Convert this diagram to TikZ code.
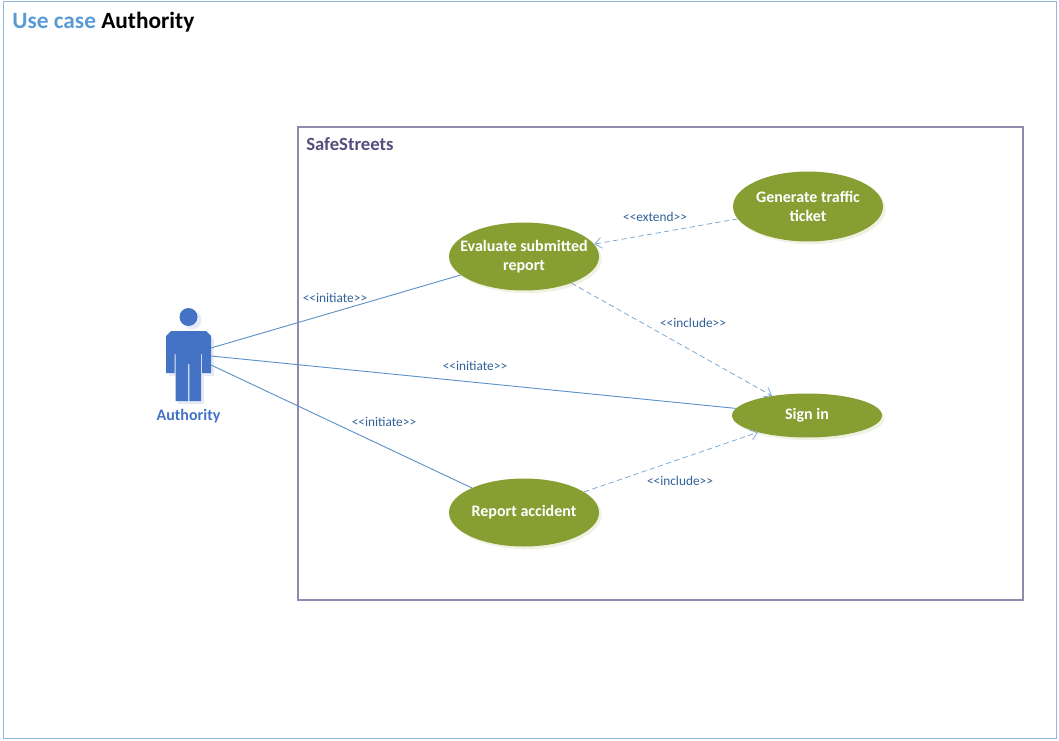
\documentclass[tikz,border=0pt]{standalone}
\usepackage{fontspec}
\setmainfont{Carlito}
\usetikzlibrary{positioning, arrows.meta, shapes.geometric, shadows}
\definecolor{olivefill}{HTML}{879E32}
\definecolor{oliveshade}{HTML}{EFF1E3}
\definecolor{actorblue}{HTML}{4472C4}
\definecolor{actorshade}{HTML}{E6EBF6}
\definecolor{linkblue}{HTML}{5F93C8}
\definecolor{stereoblue}{HTML}{2F6098}
\definecolor{frameblue}{HTML}{8DB8E0}
\definecolor{titleblue}{HTML}{5B9BD5}
\definecolor{boxpurple}{HTML}{8F8BAE}
\definecolor{boxtext}{HTML}{544F7D}

\begin{document}
\begin{tikzpicture}[
        x=0.75pt, y=-0.75pt,
        on grid,
        usecase/.style={ellipse, fill=olivefill, text=white, minimum width=112.5pt, inner sep=-17pt, align=center,
            font=\bfseries\fontsize{12}{14.25}\selectfont,
            copy shadow={shadow xshift=2pt, shadow yshift=-2pt, fill=oliveshade, draw=none}},
        stereo/.style={text=stereoblue, font=\fontsize{10}{12}\selectfont, inner sep=0pt},
        initiate/.style={linkblue, line width=0.7pt},
        depend/.style={linkblue!80, line width=0.6pt, dashed, dash pattern=on 4pt off 2.5pt, -{Straight Barb[length=5pt, width=8pt]}},
        actorpart/.style={fill=actorblue}
    ]
    \useasboundingbox (0,0) rectangle (1059,741);

    \node[draw=frameblue, line width=0.7pt, minimum width=789.75pt, minimum height=552.75pt, inner sep=0pt] (Frame) at (529.5,369.5) {};
    \node[anchor=west, inner sep=0pt, font=\bfseries\fontsize{17.5}{20}\selectfont] (Title) at (12,22) {\textcolor{titleblue}{Use case} Authority};

    \node[draw=boxpurple, line width=0.8pt, minimum width=543.75pt, minimum height=354.75pt, inner sep=0pt] (System) at (660.5,363.5) {};
    \node[anchor=west, inner sep=0pt, text=boxtext, font=\bfseries\fontsize{14}{16}\selectfont] (SystemName) at (306,144) {SafeStreets};

    \node[usecase, minimum height=51pt] (Evaluate) at (524,256.5) {Evaluate submitted\\report};
    \node[usecase, minimum height=52.5pt, right=213pt of Evaluate, yshift=37.5pt] (Generate) {Generate traffic\\ticket};
    \node[usecase, minimum height=51pt, below=192pt of Evaluate] (Report) {Report accident};
    \node[usecase, minimum height=33pt, right=212.25pt of Report, yshift=72.75pt] (SignIn) {Sign in};

    \fill[actorshade] (192,320) circle (9.5);
    \fill[actorshade] (171,334) -- (208,334) -- (214,340) -- (214,376) -- (204,376) -- (204,404) -- (178,404) -- (178,376) -- (169,376) -- (169,340) -- cycle;
    \fill[actorpart] (188.5,317) circle (9);
    \fill[actorpart] (171,331) -- (206,331) -- (211,336) -- (211,373) -- (202,373) -- (202,354) -- (201,354) -- (201,401) -- (189.3,401) -- (189.3,364) -- (188,364) -- (188,401) -- (175.5,401) -- (175.5,354) -- (174.5,354) -- (174.5,373) -- (166,373) -- (166,336) -- cycle;
    \coordinate (ActorA) at (211,348);
    \coordinate (ActorB) at (211,356);
    \coordinate (ActorC) at (211,365);
    \node[inner sep=0pt, text=actorblue, font=\bfseries\fontsize{12}{14}\selectfont] (Actor) at (188.5,416.5) {Authority};

    \draw[initiate] (ActorA) -- (Evaluate);
    \draw[initiate] (ActorB) -- (SignIn);
    \draw[initiate] (ActorC) -- (Report);
    \draw[depend] (Generate) -- (Evaluate);
    \draw[depend] (Evaluate) -- (SignIn);
    \draw[depend] (Report) -- (SignIn);

    \node[stereo] (InitEvaluate) at (335,298) {<{}<initiate>{}>};
    \node[stereo] (InitSignIn) at (475,366) {<{}<initiate>{}>};
    \node[stereo] (InitReport) at (384,422) {<{}<initiate>{}>};
    \node[stereo] (Extend) at (655,217) {<{}<extend>{}>};
    \node[stereo] (IncludeEvaluate) at (693,323) {<{}<include>{}>};
    \node[stereo] (IncludeReport) at (680,481) {<{}<include>{}>};
    \end{tikzpicture}
\end{document}
